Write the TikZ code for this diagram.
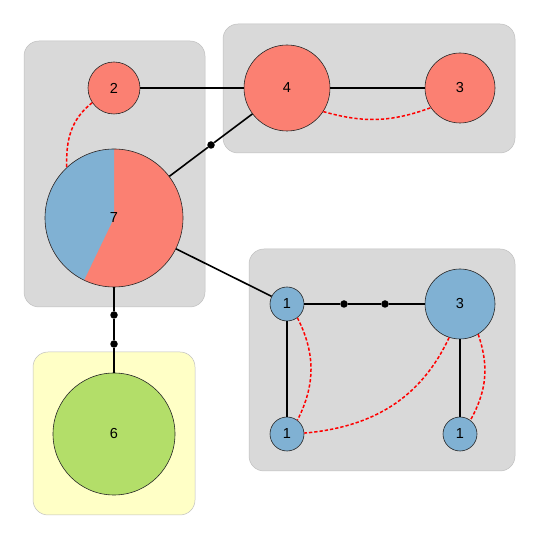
\documentclass[tikz,border=0pt]{standalone}
\usepackage{fontspec}
\setmainfont{Liberation Sans}
\usepackage{xcolor}
\definecolor{setred}{HTML}{FB8072}
\definecolor{setblue}{HTML}{80B1D3}
\definecolor{setgreen}{HTML}{B3DE69}
\definecolor{setgray}{HTML}{D9D9D9}
\definecolor{setyellow}{HTML}{FFFFC6}
\tikzset{vert/.style={circle,draw=black!85,line width=0.6pt,inner sep=0pt,
   font=\fontsize{14.5}{16}\selectfont},
 redvert/.style={vert,fill=setred},
 bluevert/.style={vert,fill=setblue},
 greenvert/.style={vert,fill=setgreen},
 bendpt/.style={circle,fill=black,inner sep=0pt,minimum size=7.5pt},
 link/.style={draw=black,line width=1.6pt},
 ghost/.style={draw=red,line width=1.5pt,dash pattern=on 3.3pt off 2pt},
 cluster/.style={draw=black!25,line width=0.5pt,rounded corners=15pt,fill=setgray},
 }

\begin{document}
\begin{tikzpicture}[x=1pt,y=1pt]
    \useasboundingbox (0,0) rectangle (540,540);
    % clusters
    \path[cluster] (24,233) rectangle (205,499);
    \path[cluster] (223,387) rectangle (515,516);
    \path[cluster] (249,69) rectangle (515,291);
    \path[cluster,fill=setyellow] (33,25) rectangle (195,188);
    % vertices
    \node[redvert,minimum size=52pt] (v2) at (114,452) {2};
    \node[vert,minimum size=138pt,fill=setred,
        path picture={\fill[setblue] (path picture bounding box.center)
            -- ++(90:69pt) arc[start angle=90,end angle=244.3,radius=69pt] -- cycle;}]
        (v7) at (114,322) {7};
    \node[redvert,minimum size=86pt] (v4) at (287,452) {4};
    \node[redvert,minimum size=70pt] (v3r) at (460,452) {3};
    \node[bluevert,minimum size=34pt] (b1) at (287,236) {1};
    \node[bluevert,minimum size=70pt] (b3) at (460,236) {3};
    \node[bluevert,minimum size=34pt] (b1s) at (287,106) {1};
    \node[bluevert,minimum size=34pt] (b1e) at (460,106) {1};
    \node[greenvert,minimum size=122pt] (v6) at (114,106) {6};
    % bend points
    \node[bendpt] (p74) at (211,395) {};
    \node[bendpt] (p76a) at (114,225) {};
    \node[bendpt] (p76b) at (114,196) {};
    \node[bendpt] (pb1) at (344,236) {};
    \node[bendpt] (pb2) at (385,236) {};
    % links
    \draw[link] (v2) -- (v4);
    \draw[link] (v4) -- (v3r);
    \draw[link] (v7) -- (p74) -- (v4);
    \draw[link] (v7) -- (b1);
    \draw[link] (v7) -- (p76a) -- (p76b) -- (v6);
    \draw[link] (b1) -- (pb1) -- (pb2) -- (b3);
    \draw[link] (b1) -- (b1s);
    \draw[link] (b3) -- (b1e);
    % ghost links
    \draw[ghost] (v2.214) to[out=218,in=92] (v7.133);
    \draw[ghost] (v4.-33) to[bend right=18] (v3r.214);
    \draw[ghost] (b1.-53) to[bend left=27] (b1s.53);
    \draw[ghost] (b3.252) to[out=245,in=5] (b1s.3);
    \draw[ghost] (b3.-59) to[bend left=24] (b1e.53);
\end{tikzpicture}
\end{document}
